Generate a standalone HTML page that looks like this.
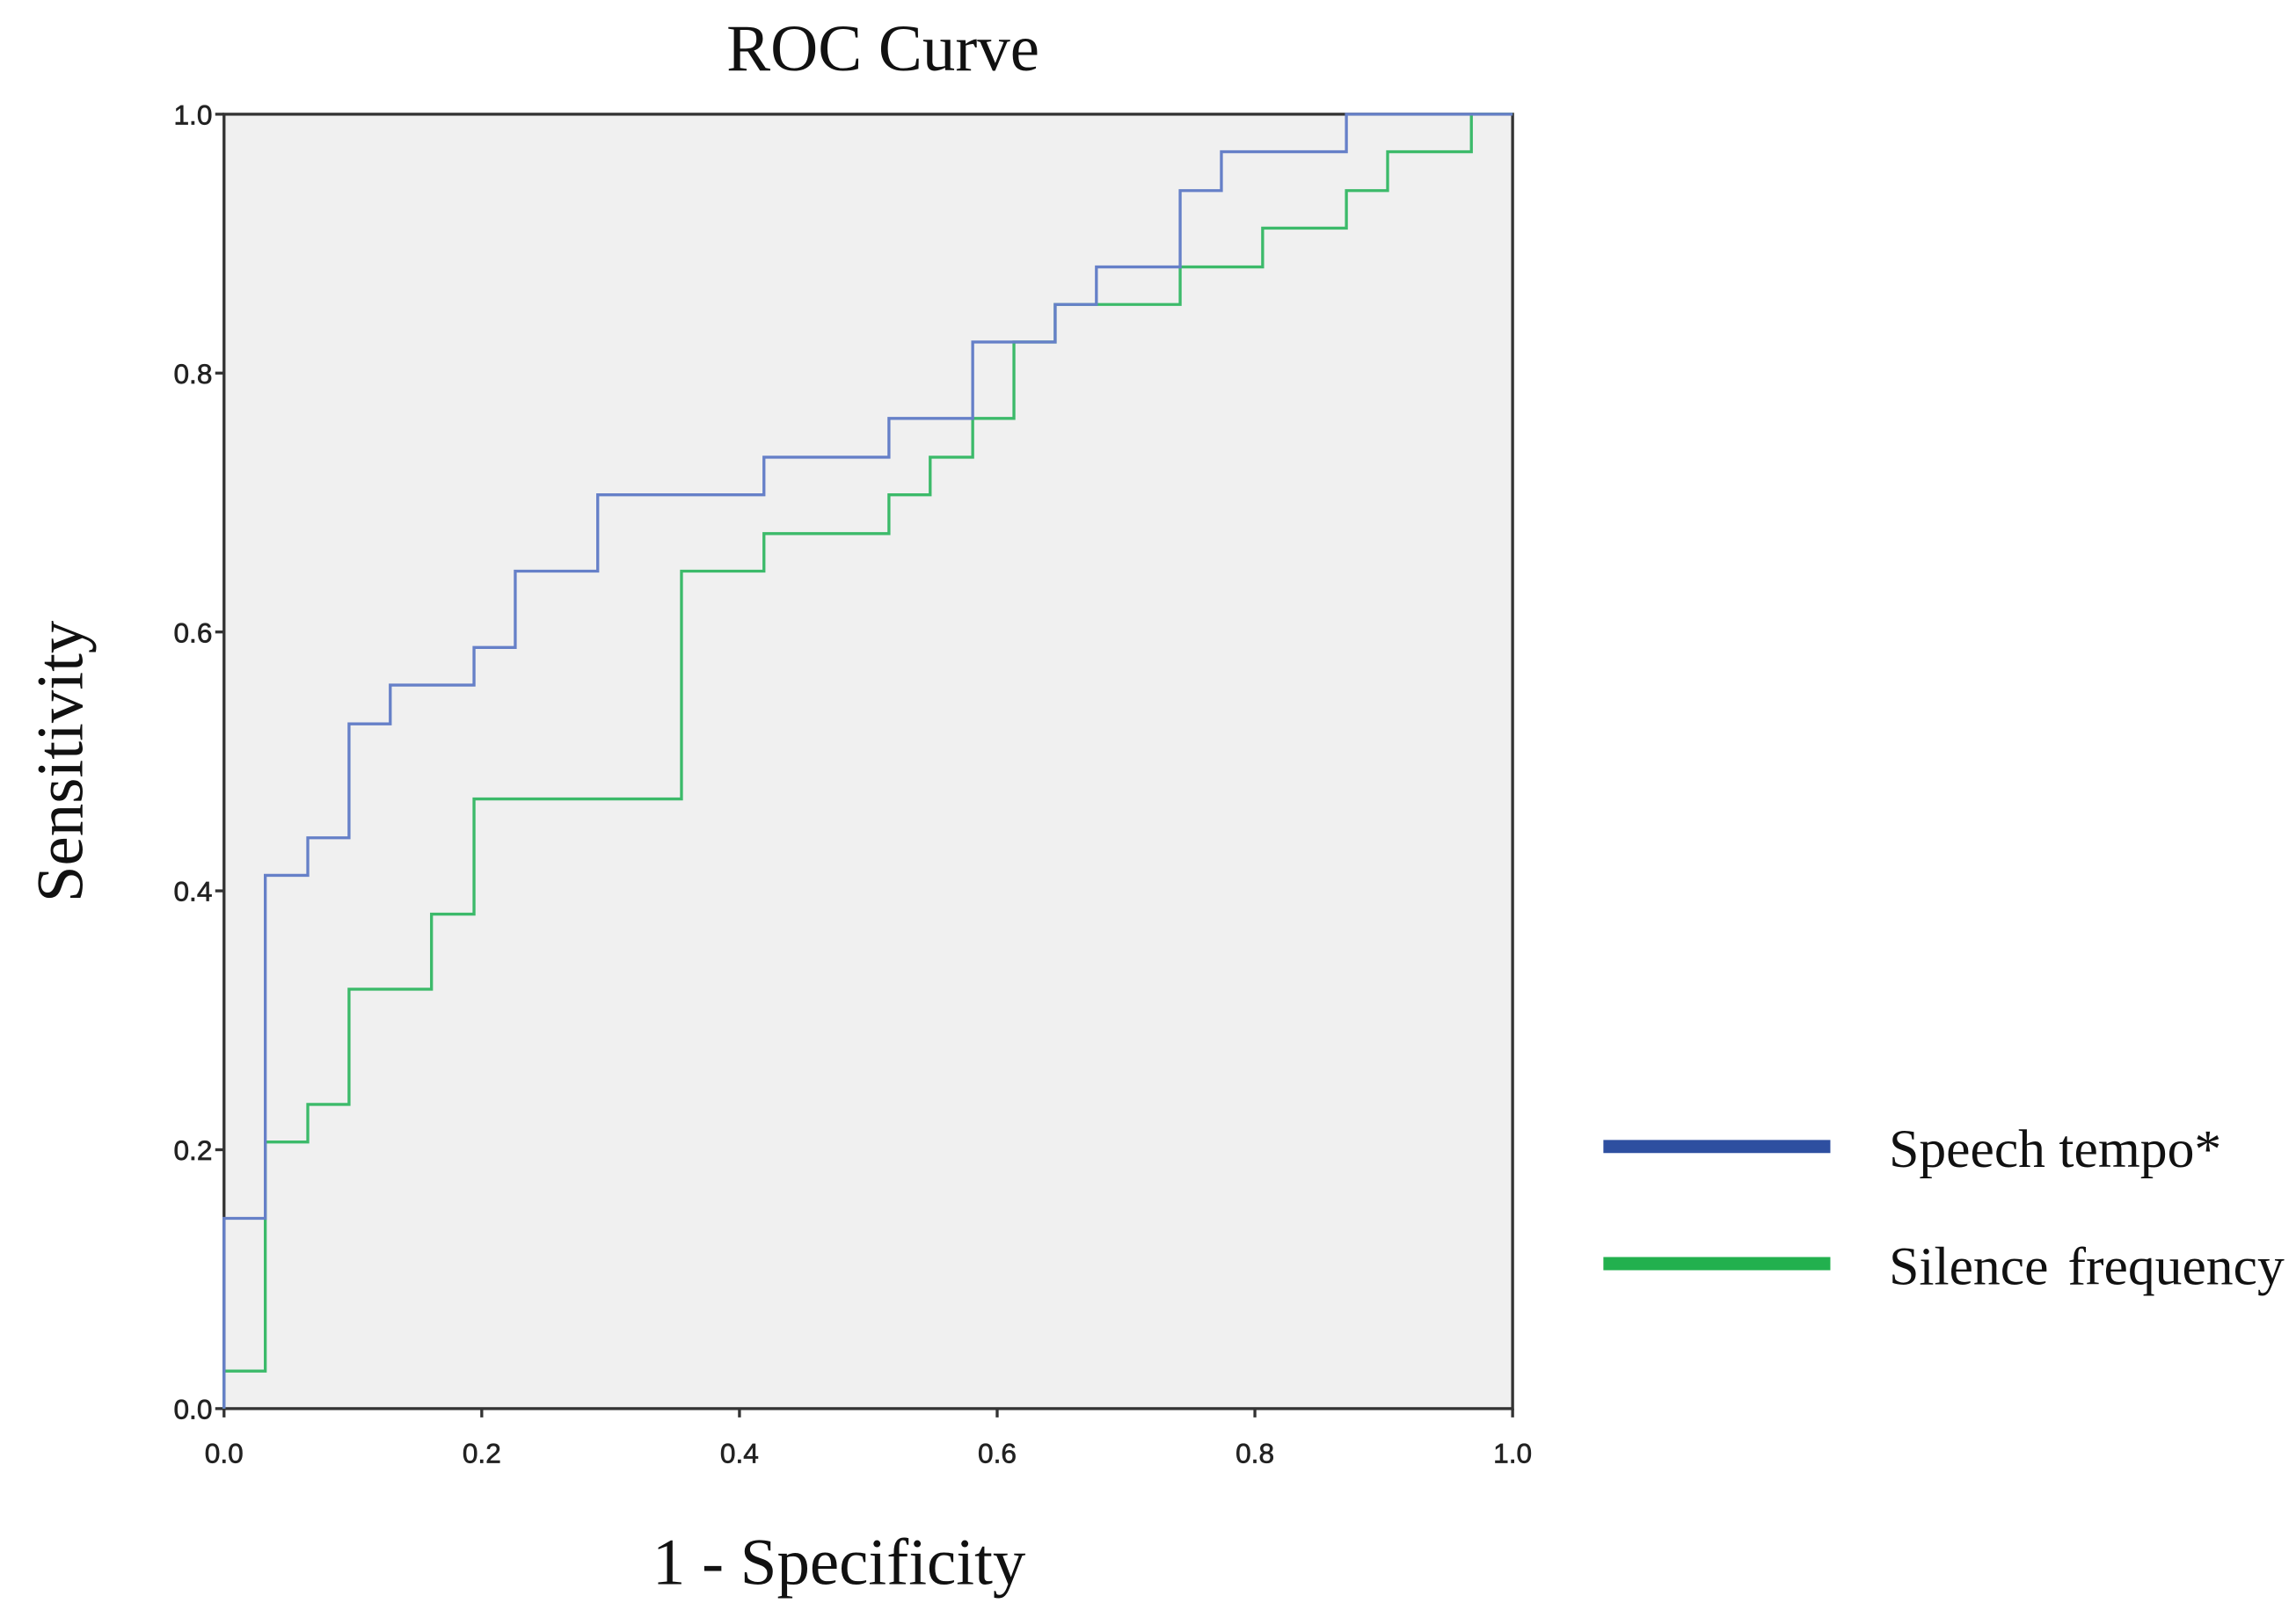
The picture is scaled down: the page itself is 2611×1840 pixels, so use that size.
<!DOCTYPE html>
<html><head><meta charset="utf-8"><style>
html,body{margin:0;padding:0;background:#fff;}
svg{display:block;}
</style></head><body>
<svg id="chart" width="2611" height="1840" viewBox="0 0 1568 1105" preserveAspectRatio="none" xmlns="http://www.w3.org/2000/svg">
<rect x="0" y="0" width="1568" height="1105" fill="#fff"/>
<text x="603" y="48" text-anchor="middle" font-family="Liberation Serif, serif" font-size="45" fill="#111">ROC Curve</text>
<rect x="153" y="78" width="880" height="884" fill="#f0f0f0" stroke="#333" stroke-width="2"/>
<g id="axes"></g>
<g id="series"></g>
<text x="573" y="1082" text-anchor="middle" font-family="Liberation Serif, serif" font-size="45" fill="#111">1 - Specificity</text>
<text transform="translate(56,520) rotate(-90)" text-anchor="middle" font-family="Liberation Serif, serif" font-size="45" fill="#111">Sensitivity</text>
<g>
<line x1="1095" y1="783" x2="1250" y2="783" stroke="#2e4fa0" stroke-width="9"/>
<text x="1290" y="797" font-family="Liberation Serif, serif" font-size="37" fill="#111">Speech tempo*</text>
<line x1="1095" y1="863" x2="1250" y2="863" stroke="#22b04e" stroke-width="9"/>
<text x="1290" y="877" font-family="Liberation Serif, serif" font-size="37" fill="#111" word-spacing="4">Silence frequency</text>
</g>
</svg>
<script>
const tickValues = [0, 0.2, 0.4, 0.6, 0.8, 1.0];
const tickLabels = ["0.0", "0.2", "0.4", "0.6", "0.8", "1.0"];
const speechX = [0, 0.032, 0.065, 0.097, 0.129, 0.194, 0.226, 0.290, 0.419, 0.516, 0.581, 0.645, 0.677, 0.742, 0.774, 0.871, 1.0];
const speechY = [0.147, 0.412, 0.441, 0.529, 0.559, 0.588, 0.647, 0.706, 0.735, 0.765, 0.824, 0.853, 0.882, 0.941, 0.971, 1.0, 1.0];
const silenceX = [0, 0.032, 0.065, 0.097, 0.161, 0.194, 0.355, 0.419, 0.516, 0.548, 0.581, 0.613, 0.645, 0.742, 0.806, 0.871, 0.903, 0.968, 1.0];
const silenceY = [0.029, 0.206, 0.235, 0.324, 0.382, 0.471, 0.647, 0.676, 0.706, 0.735, 0.765, 0.824, 0.853, 0.882, 0.912, 0.941, 0.971, 1.0, 1.0];

const NS = "http://www.w3.org/2000/svg";
const L = 153, R = 1033, T = 78, B = 962;
function xs(v){ return L + v * (R - L); }
function ys(v){ return B - v * (B - T); }

const axes = document.getElementById('axes');
tickValues.forEach((v, i) => {
  const tx = document.createElementNS(NS, 'line');
  tx.setAttribute('x1', xs(v)); tx.setAttribute('x2', xs(v));
  tx.setAttribute('y1', B); tx.setAttribute('y2', B + 6);
  tx.setAttribute('stroke', '#333'); tx.setAttribute('stroke-width', '2');
  
  
  axes.appendChild(tx);
  const lx = document.createElementNS(NS, 'text');
  lx.setAttribute('x', xs(v)); lx.setAttribute('y', B + 37);
  lx.setAttribute('text-anchor', 'middle');
  lx.setAttribute('font-family', 'Liberation Sans, sans-serif');
  lx.setAttribute('font-size', '19'); lx.setAttribute('fill', '#222');
  lx.setAttribute('stroke', '#222'); lx.setAttribute('stroke-width', '0.4');
  lx.textContent = tickLabels[i];
  
  
  axes.appendChild(lx);
  const ty = document.createElementNS(NS, 'line');
  ty.setAttribute('x1', L - 6); ty.setAttribute('x2', L);
  ty.setAttribute('y1', ys(v)); ty.setAttribute('y2', ys(v));
  ty.setAttribute('stroke', '#333'); ty.setAttribute('stroke-width', '2');
  
  
  axes.appendChild(ty);
  const ly = document.createElementNS(NS, 'text');
  ly.setAttribute('x', L - 8); ly.setAttribute('y', ys(v) + 7);
  ly.setAttribute('text-anchor', 'end');
  ly.setAttribute('font-family', 'Liberation Sans, sans-serif');
  ly.setAttribute('font-size', '19'); ly.setAttribute('fill', '#222');
  ly.setAttribute('stroke', '#222'); ly.setAttribute('stroke-width', '0.4');
  ly.textContent = tickLabels[i];
  
  
  axes.appendChild(ly);
});

function stepPath(X, Y){
  let d = 'M' + xs(0) + ' ' + ys(0);
  let prevY = 0;
  for (let i = 0; i < X.length; i++) {
    d += ' L' + xs(X[i]) + ' ' + ys(prevY);
    d += ' L' + xs(X[i]) + ' ' + ys(Y[i]);
    prevY = Y[i];
  }
  return d;
}
const g = document.getElementById('series');
const p2 = document.createElementNS(NS, 'path');
p2.setAttribute('d', stepPath(silenceX, silenceY));
p2.setAttribute('fill', 'none'); p2.setAttribute('stroke', '#3cba6a'); p2.setAttribute('stroke-width', '2');


g.appendChild(p2);
const p1 = document.createElementNS(NS, 'path');
p1.setAttribute('d', stepPath(speechX, speechY));
p1.setAttribute('fill', 'none'); p1.setAttribute('stroke', '#6680c8'); p1.setAttribute('stroke-width', '2');


g.appendChild(p1);
</script>
</body></html>
